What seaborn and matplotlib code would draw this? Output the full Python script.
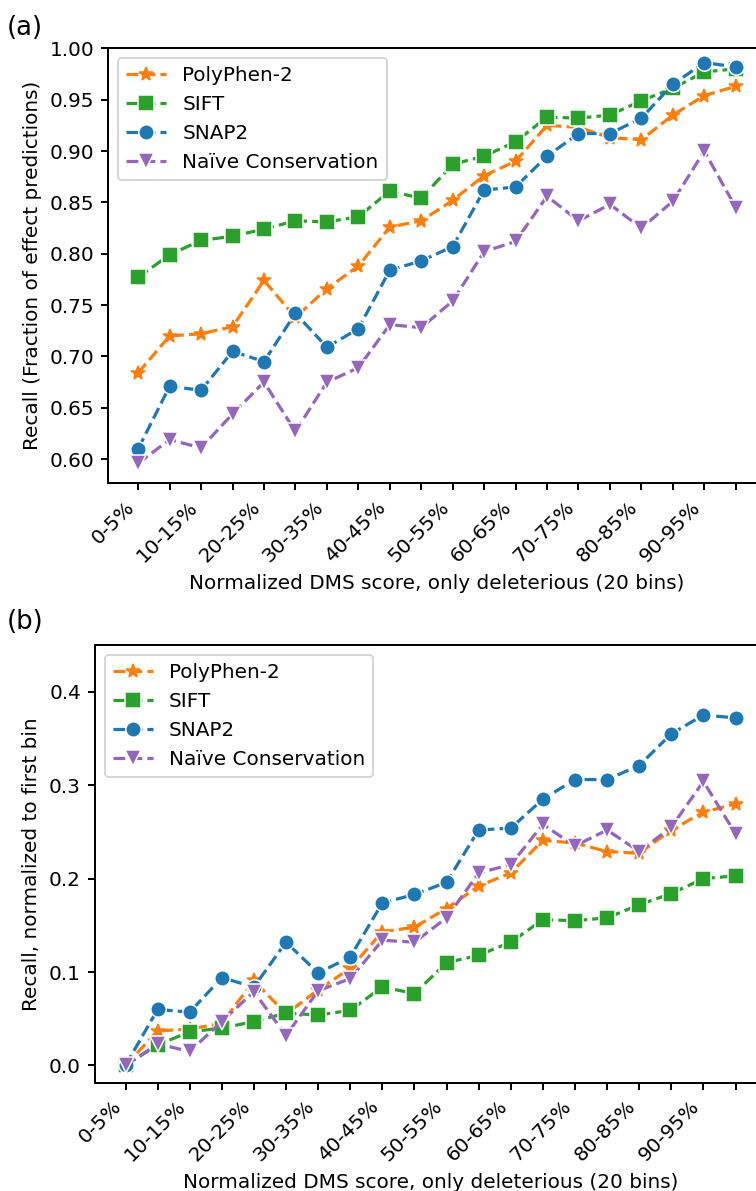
import matplotlib
matplotlib.use("Agg")
import matplotlib.pyplot as plt
import numpy as np
import pandas as pd
import seaborn as sns

plt.rcParams["axes.linewidth"] = 1.0
plt.rcParams["xtick.major.width"] = 1.0
plt.rcParams["ytick.major.width"] = 1.0

methods = ["PolyPhen-2", "SIFT", "SNAP2", "Naïve Conservation"]
bins = list(range(20))
tick_labels = ["0-5%", "", "10-15%", "", "20-25%", "", "30-35%", "", "40-45%", "",
               "50-55%", "", "60-65%", "", "70-75%", "", "80-85%", "", "90-95%", ""]

# Panel (a): recall
recall_polyphen = [0.684, 0.720, 0.722, 0.729, 0.774, 0.738, 0.766, 0.788, 0.826, 0.832,
                   0.852, 0.876, 0.890, 0.925, 0.923, 0.913, 0.911, 0.935, 0.954, 0.963]
recall_sift = [0.777, 0.799, 0.813, 0.817, 0.824, 0.832, 0.831, 0.836, 0.861, 0.854,
               0.887, 0.895, 0.909, 0.933, 0.932, 0.935, 0.949, 0.961, 0.977, 0.980]
recall_snap2 = [0.610, 0.671, 0.667, 0.705, 0.695, 0.742, 0.709, 0.727, 0.784, 0.793,
                0.807, 0.862, 0.865, 0.895, 0.917, 0.917, 0.932, 0.965, 0.986, 0.982]
recall_naive = [0.596, 0.619, 0.611, 0.644, 0.675, 0.627, 0.675, 0.689, 0.731, 0.728,
                0.754, 0.802, 0.812, 0.856, 0.832, 0.848, 0.825, 0.851, 0.900, 0.845]

# Panel (b): recall normalized to first bin
norm_polyphen = [0.000, 0.037, 0.039, 0.045, 0.091, 0.055, 0.081, 0.104, 0.143, 0.148,
                 0.168, 0.192, 0.206, 0.241, 0.238, 0.229, 0.227, 0.252, 0.271, 0.280]
norm_sift = [0.000, 0.022, 0.036, 0.040, 0.047, 0.056, 0.054, 0.059, 0.084, 0.077,
             0.110, 0.118, 0.132, 0.156, 0.155, 0.158, 0.172, 0.184, 0.200, 0.203]
norm_snap2 = [0.000, 0.060, 0.057, 0.094, 0.084, 0.132, 0.099, 0.116, 0.174, 0.183,
              0.196, 0.252, 0.254, 0.285, 0.306, 0.306, 0.321, 0.355, 0.375, 0.372]
norm_naive = [0.000, 0.023, 0.015, 0.047, 0.079, 0.032, 0.080, 0.093, 0.134, 0.132,
              0.158, 0.206, 0.215, 0.258, 0.235, 0.252, 0.229, 0.255, 0.304, 0.248]

palette = {"PolyPhen-2": "#ff7f0e", "SIFT": "#2ca02c", "SNAP2": "#1f77b4",
           "Naïve Conservation": "#9467bd"}
markers = {"PolyPhen-2": "*", "SIFT": "s", "SNAP2": "o", "Naïve Conservation": "v"}
dashes = {m: (3.7, 1.6) for m in methods}


def long_frame(series):
    rows = []
    for m, vals in zip(methods, series):
        for b, v in zip(bins, vals):
            rows.append({"bin": b, "value": v, "method": m})
    return pd.DataFrame(rows)


df_a = long_frame([recall_polyphen, recall_sift, recall_snap2, recall_naive])
df_b = long_frame([norm_polyphen, norm_sift, norm_snap2, norm_naive])

W, H, DPI = 756, 1191, 144
fig = plt.figure(figsize=(W / DPI, H / DPI), dpi=DPI)

ax1 = fig.add_axes([108.3 / W, 1 - 483.3 / H, 657.3 / W, 435 / H])
ax2 = fig.add_axes([95 / W, 1 - 1083 / H, 671 / W, 438 / H])


def adjust_star(lines):
    for ln in lines:
        if ln.get_marker() == "*":
            ln.set_markersize(7.2)
            ln.set_markeredgecolor(ln.get_color())


for ax, df, ylab in [(ax1, df_a, "Recall (Fraction of effect predictions)"),
                     (ax2, df_b, "Recall, normalized to first bin")]:
    sns.lineplot(data=df, x="bin", y="value", hue="method", style="method",
                 hue_order=methods, style_order=methods, palette=palette,
                 markers=markers, dashes=dashes, markersize=7.7, linewidth=1.6, ax=ax)
    adjust_star(ax.lines)
    ax.set_xticks(bins)
    ax.set_xticklabels(tick_labels, rotation=45, ha="right", fontsize=10)
    ax.tick_params(axis="y", labelsize=10)
    ax.set_xlim(-0.95, 19.95)
    ax.set_xlabel("Normalized DMS score, only deleterious (20 bins)", fontsize=10)
    ax.set_ylabel(ylab, fontsize=10)
    sns.move_legend(ax, "upper left", title=None, fontsize=10)
    adjust_star(ax.get_legend().get_lines())

ax1.set_ylim(0.5765, 1.0)
ax1.set_yticks([0.60, 0.65, 0.70, 0.75, 0.80, 0.85, 0.90, 0.95, 1.00])
ax1.set_yticklabels(["0.60", "0.65", "0.70", "0.75", "0.80", "0.85", "0.90", "0.95", "1.00"])
ax2.set_ylim(-0.01875, 0.45)
ax2.set_yticks([0.0, 0.1, 0.2, 0.3, 0.4])

fig.text(7 / W, 1 - 28 / H, "(a)", fontsize=13, va="center", ha="left")
fig.text(7 / W, 1 - 622 / H, "(b)", fontsize=13, va="center", ha="left")

fig.savefig("out.png", dpi=DPI)
